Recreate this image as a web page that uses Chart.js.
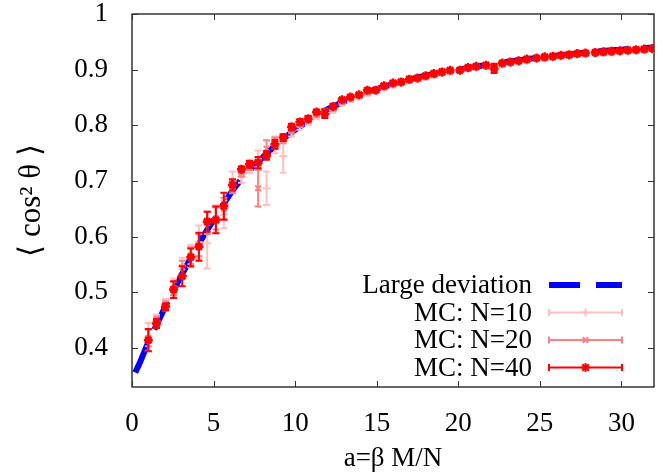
<!DOCTYPE html>
<html><head><meta charset="utf-8">
<script src="https://cdn.jsdelivr.net/npm/chart.js@4.4.0/dist/chart.umd.min.js"></script>
<style>html,body{margin:0;padding:0;background:#fff;}#wrap{width:669px;height:472px;}</style>
</head><body><div id="wrap"><canvas id="c" width="669" height="472"></canvas></div>
<script>
// Large-deviation curve
const ldX = [0.2,0.5,1,1.5,2,2.5,3,3.5,4,4.5,5,5.5,6,6.5,7,7.5,8,8.5,9,9.5,10,11,12,13,14,15,16,17,18,19,20,21,22,23,24,25,26,27,28,29,30,31,32];
const ldY = [0.356,0.375,0.410,0.441,0.472,0.501,0.529,0.556,0.582,0.607,0.630,0.653,0.676,0.696,0.713,0.728,0.742,0.756,0.769,0.781,0.792,0.812,0.829,0.843,0.855,0.865,0.874,0.882,0.889,0.895,0.900,0.905,0.910,0.914,0.918,0.922,0.925,0.928,0.931,0.934,0.936,0.938,0.940];
// Monte Carlo abscissae
const mcX = [1.0,1.5,2.05,2.55,3.08,3.6,4.1,4.61,5.14,5.63,6.16,6.71,7.2,7.73,8.25,8.76,9.27,9.78,10.29,10.8,11.31,11.82,12.33,12.88,13.39,13.92,14.43,14.94,15.45,16.0,16.5,17.0,17.5,18.0,18.5,19.0,19.5,20.1,20.6,21.1,21.7,22.2,22.7,23.2,23.7,24.2,24.8,25.3,25.8,26.3,26.8,27.3,27.8,28.4,28.9,29.4,29.9,30.4,30.9,31.4,31.9];
const n10Y = [0.420,0.448,0.478,0.510,0.547,0.565,0.590,0.588,0.632,0.640,0.700,0.707,0.726,0.740,0.687,0.765,0.745,0.790,0.800,0.808,0.818,0.822,0.828,0.841,0.847,0.852,0.858,0.862,0.867,0.872,0.876,0.880,0.883,0.887,0.890,0.894,0.896,0.899,0.901,0.904,0.906,0.908,0.909,0.912,0.914,0.916,0.919,0.920,0.922,0.924,0.925,0.927,0.928,0.929,0.930,0.931,0.932,0.933,0.934,0.935,0.936];
const n10E = [0.025,0.012,0.010,0.015,0.015,0.020,0.030,0.045,0.025,0.025,0.017,0.010,0.012,0.015,0.030,0.015,0.030,0.010,0.008,0.008,0.007,0.006,0.006,0.005,0.005,0.005,0.005,0.004,0.004,0.004,0.004,0.004,0.004,0.004,0.004,0.004,0.004,0.004,0.004,0.004,0.004,0.004,0.004,0.004,0.004,0.004,0.004,0.004,0.004,0.004,0.004,0.004,0.004,0.004,0.004,0.004,0.004,0.004,0.004,0.004,0.004];
const n20Y = [0.418,0.446,0.476,0.507,0.545,0.566,0.585,0.625,0.633,0.650,0.690,0.716,0.728,0.687,0.758,0.768,0.776,0.793,0.803,0.810,0.820,0.825,0.831,0.843,0.849,0.854,0.860,0.864,0.869,0.874,0.877,0.881,0.884,0.888,0.891,0.895,0.897,0.900,0.902,0.905,0.907,0.906,0.910,0.913,0.915,0.917,0.920,0.921,0.923,0.925,0.926,0.928,0.929,0.930,0.931,0.932,0.933,0.934,0.935,0.936,0.937];
const n20E = [0.015,0.010,0.008,0.012,0.012,0.015,0.020,0.020,0.020,0.020,0.012,0.008,0.008,0.033,0.015,0.010,0.008,0.007,0.006,0.006,0.005,0.005,0.005,0.004,0.004,0.004,0.004,0.004,0.003,0.003,0.003,0.003,0.003,0.003,0.003,0.003,0.003,0.003,0.003,0.003,0.003,0.003,0.003,0.003,0.003,0.003,0.003,0.003,0.003,0.003,0.003,0.003,0.003,0.003,0.003,0.003,0.003,0.003,0.003,0.003,0.003];
const n40Y = [0.414,0.444,0.474,0.505,0.529,0.563,0.582,0.627,0.630,0.655,0.693,0.721,0.730,0.733,0.746,0.766,0.778,0.797,0.806,0.812,0.824,0.821,0.834,0.846,0.851,0.855,0.863,0.863,0.871,0.876,0.878,0.883,0.885,0.889,0.893,0.896,0.899,0.899,0.904,0.906,0.908,0.902,0.912,0.914,0.916,0.919,0.921,0.923,0.924,0.926,0.927,0.929,0.930,0.931,0.932,0.933,0.934,0.935,0.936,0.937,0.938];
const n40E = [0.020,0.008,0.006,0.015,0.018,0.016,0.025,0.018,0.024,0.024,0.010,0.005,0.006,0.010,0.008,0.008,0.006,0.006,0.005,0.005,0.004,0.008,0.004,0.003,0.003,0.003,0.003,0.003,0.003,0.002,0.002,0.002,0.002,0.002,0.002,0.002,0.002,0.002,0.002,0.002,0.002,0.008,0.002,0.002,0.002,0.002,0.002,0.002,0.002,0.002,0.002,0.002,0.002,0.002,0.002,0.002,0.002,0.002,0.002,0.002,0.002];
// Axes
const xTicks = [0,5,10,15,20,25,30];
const yTicks = [0.4,0.5,0.6,0.7,0.8,0.9,1];
const xTitle = 'a=β M/N';
const yTitle = '⟨ cos² θ ⟩';
const seriesLabels = ['Large deviation','MC: N=10','MC: N=20','MC: N=40'];

const FONT = 'Liberation Serif, Times New Roman, serif';
const FS = 27;
const pts = (xs, ys) => xs.map((x, i) => ({x: x, y: ys[i]}));

const errorBars = {
  id: 'errorBars',
  beforeDatasetDraw(chart, args) {
    const ds = chart.data.datasets[args.index];
    if (!ds.errors) return;
    const xs = chart.scales.x, ys = chart.scales.y, ctx = chart.ctx, a = chart.chartArea;
    ctx.save();
    ctx.beginPath(); ctx.rect(a.left, a.top, a.right - a.left, a.bottom - a.top); ctx.clip();
    ctx.strokeStyle = ds.borderColor; ctx.lineWidth = 2;
    ds.data.forEach((p, i) => {
      const e = ds.errors[i];
      const px = xs.getPixelForValue(p.x);
      const y1 = ys.getPixelForValue(p.y - e), y2 = ys.getPixelForValue(p.y + e);
      ctx.beginPath();
      ctx.moveTo(px, y1); ctx.lineTo(px, y2);
      ctx.moveTo(px - 3.5, y1); ctx.lineTo(px + 3.5, y1);
      ctx.moveTo(px - 3.5, y2); ctx.lineTo(px + 3.5, y2);
      ctx.stroke();
    });
    ctx.restore();
  }
};

const frame = {
  id: 'frame',
  beforeDatasetsDraw(chart) {
    const a = chart.chartArea, ctx = chart.ctx, xs = chart.scales.x, ys = chart.scales.y;
    ctx.save();
    ctx.strokeStyle = '#000'; ctx.lineWidth = 1.2;
    ctx.strokeRect(a.left, a.top, a.right - a.left, a.bottom - a.top);
    ctx.beginPath();
    xTicks.forEach(v => {
      const px = Math.round(xs.getPixelForValue(v)) + 0.5;
      ctx.moveTo(px, a.bottom); ctx.lineTo(px, a.bottom - 6);
      ctx.moveTo(px, a.top); ctx.lineTo(px, a.top + 6);
    });
    yTicks.forEach(v => {
      const py = Math.round(ys.getPixelForValue(v)) + 0.5;
      ctx.moveTo(a.left, py); ctx.lineTo(a.left + 6, py);
      ctx.moveTo(a.right, py); ctx.lineTo(a.right - 6, py);
    });
    ctx.lineWidth = 1; ctx.strokeStyle = '#333';
    ctx.stroke();
    ctx.restore();
  }
};

const keyPlugin = {
  id: 'key',
  afterDraw(chart) {
    const ctx = chart.ctx;
    const textX = 532, x1 = 549, x2 = 622, y0 = 285, dy = 27.5;
    ctx.save();
    ctx.font = FS + 'px ' + FONT;
    ctx.textAlign = 'right'; ctx.textBaseline = 'middle'; ctx.fillStyle = '#000';
    chart.data.datasets.forEach((ds, i) => {
      const y = y0 + i * dy;
      ctx.fillText(ds.label, textX, y + 1);
      ctx.save();
      ctx.strokeStyle = ds.borderColor;
      if (!ds.errors) {
        ctx.lineWidth = ds.borderWidth; ctx.setLineDash(ds.borderDash);
        ctx.beginPath(); ctx.moveTo(x1, y); ctx.lineTo(x2, y); ctx.stroke();
      } else {
        ctx.lineWidth = 2;
        ctx.beginPath();
        ctx.moveTo(x1, y); ctx.lineTo(x2, y);
        ctx.moveTo(x1, y - 3.5); ctx.lineTo(x1, y + 3.5);
        ctx.moveTo(x2, y - 3.5); ctx.lineTo(x2, y + 3.5);
        ctx.stroke();
        Chart.helpers.drawPoint(ctx, {pointStyle: ds.pointStyle, radius: ds.pointRadius, borderWidth: ds.borderWidth, rotation: 0}, (x1 + x2) / 2, y);
      }
      ctx.restore();
    });
    ctx.restore();
  }
};

new Chart(document.getElementById('c'), {
  type: 'line',
  data: {
    datasets: [
      {label: seriesLabels[0], data: pts(ldX, ldY), borderColor: '#0000ff', backgroundColor: '#0000ff', borderWidth: 6, borderDash: [31, 16], pointRadius: 0, fill: false, cubicInterpolationMode: 'monotone', order: 4},
      {label: seriesLabels[1], data: pts(mcX, n10Y), errors: n10E, showLine: false, pointStyle: 'cross', pointRadius: 4, borderWidth: 2, borderColor: '#ffc0c0', backgroundColor: '#ffc0c0', order: 3},
      {label: seriesLabels[2], data: pts(mcX, n20Y), errors: n20E, showLine: false, pointStyle: 'crossRot', pointRadius: 4, borderWidth: 2, borderColor: '#ff8080', backgroundColor: '#ff8080', order: 2},
      {label: seriesLabels[3], data: pts(mcX, n40Y), errors: n40E, showLine: false, pointStyle: 'star', pointRadius: 4.5, borderWidth: 2.5, borderColor: '#ff0000', backgroundColor: '#ff0000', order: 1}
    ]
  },
  options: {
    responsive: false, animation: false, devicePixelRatio: 1,
    layout: {padding: {left: 0, right: 15, top: 14, bottom: 0}},
    plugins: {legend: {display: false}, tooltip: {enabled: false}},
    scales: {
      x: {
        type: 'linear', min: 0, max: 32,
        afterBuildTicks: s => { s.ticks = xTicks.map(v => ({value: v})); },
        afterFit: s => { s.height = 85; s.paddingLeft = 0; s.paddingRight = 0; },
        grid: {display: false}, border: {display: false},
        ticks: {font: {family: FONT, size: FS}, color: '#000', padding: 13, maxRotation: 0, autoSkip: false, callback: v => String(v)},
        title: {display: true, text: xTitle, font: {family: FONT, size: FS, lineHeight: 1}, color: '#000', padding: {top: 0, bottom: 0}}
      },
      y: {
        type: 'linear', min: 0.33, max: 1,
        afterBuildTicks: s => { s.ticks = yTicks.map(v => ({value: v})); },
        afterFit: s => { s.width = 132; s.paddingTop = 0; s.paddingBottom = 0; },
        grid: {display: false}, border: {display: false},
        ticks: {font: {family: FONT, size: FS}, color: '#000', padding: 16, autoSkip: false, callback: v => String(v)},
        title: {display: true, text: yTitle, font: {family: FONT, size: 31, lineHeight: 1}, color: '#000', padding: {top: 16, bottom: 0}}
      }
    }
  },
  plugins: [errorBars, frame, keyPlugin]
});
</script></body></html>
